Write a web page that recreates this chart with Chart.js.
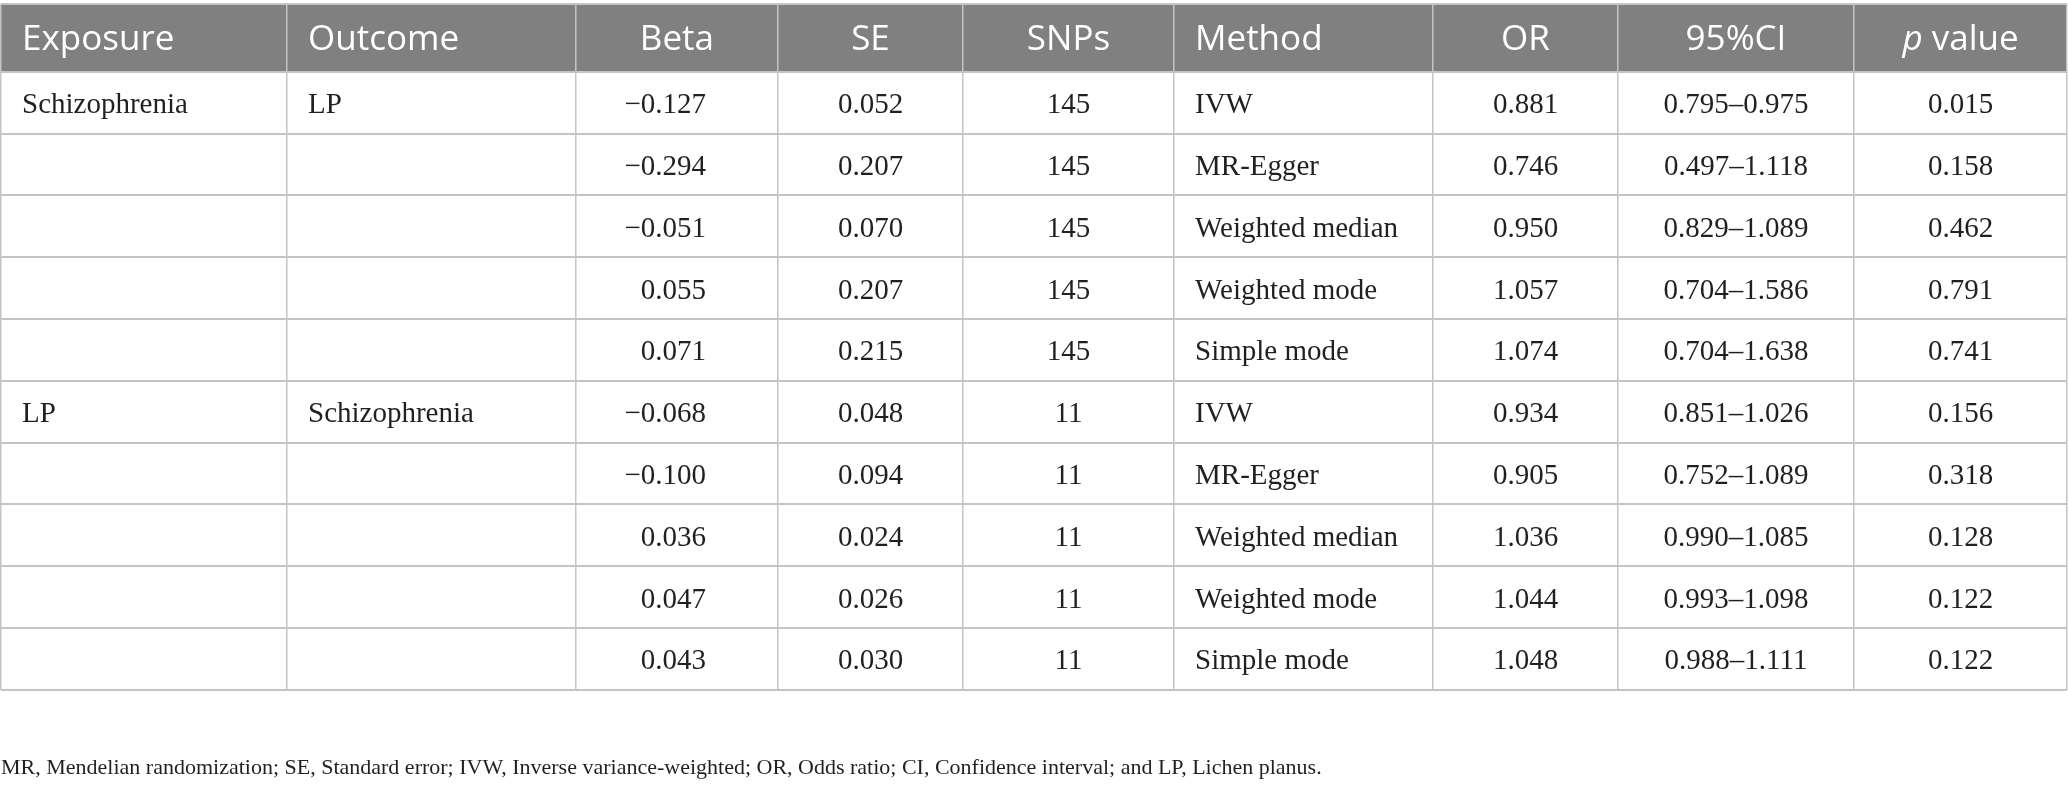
<!DOCTYPE html>
<html>
<head>
<meta charset="utf-8">
<script src="https://cdn.jsdelivr.net/npm/chart.js@4.4.1/dist/chart.umd.min.js"></script>
<style>
  html, body { margin: 0; padding: 0; background: #fff; }
  #wrap { width: 2068px; height: 792px; }
</style>
</head>
<body>
<div id="wrap"><canvas id="mrTable" width="2068" height="792"></canvas></div>
<script>
// table content
const headers = ["Exposure", "Outcome", "Beta", "SE", "SNPs", "Method", "OR", "95%CI", "_p_ value"]
const exposure = ["Schizophrenia", "", "", "", "", "LP", "", "", "", ""]
const outcome = ["LP", "", "", "", "", "Schizophrenia", "", "", "", ""]
const beta = [-0.127, -0.294, -0.051, 0.055, 0.071, -0.068, -0.100, 0.036, 0.047, 0.043]
const se = [0.052, 0.207, 0.070, 0.207, 0.215, 0.048, 0.094, 0.024, 0.026, 0.030]
const snps = [145, 145, 145, 145, 145, 11, 11, 11, 11, 11]
const method = ["IVW", "MR-Egger", "Weighted median", "Weighted mode", "Simple mode",
                "IVW", "MR-Egger", "Weighted median", "Weighted mode", "Simple mode"]
const oddsRatio = [0.881, 0.746, 0.950, 1.057, 1.074, 0.934, 0.905, 1.036, 1.044, 1.048]
const ciLow = [0.795, 0.497, 0.829, 0.704, 0.704, 0.851, 0.752, 0.990, 0.993, 0.988]
const ciHigh = [0.975, 1.118, 1.089, 1.586, 1.638, 1.026, 1.089, 1.085, 1.098, 1.111]
const pValue = [0.015, 0.158, 0.462, 0.791, 0.741, 0.156, 0.318, 0.128, 0.122, 0.122]
const footnote = "MR, Mendelian randomization; SE, Standard error; IVW, Inverse variance-weighted; OR, Odds ratio; CI, Confidence interval; and LP, Lichen planus."

// layout (table units = px along the x scale)
const colEdges = [0, 286, 575, 777, 962, 1173, 1432, 1617, 1853, 2066]
const colAlign = ["left", "left", "right", "center", "center", "left", "center", "center", "center"]
const headerRows = 1.1
const cellPad = 21
const lineColor = "#c4c4c4"
const headFill = "#808080"
const inkColor = "#231f20"

const fmt = v => v.toFixed(3).replace("-", "\u2212")

const columns = [
    exposure,
    outcome,
    beta.map(fmt),
    se.map(v => v.toFixed(3)),
    snps.map(String),
    method,
    oddsRatio.map(v => v.toFixed(3)),
    ciLow.map((lo, i) => lo.toFixed(3) + "\u2013" + ciHigh[i].toFixed(3)),
    pValue.map(v => v.toFixed(3)),
]

function anchorX(c, rightPad) {
    if (colAlign[c] === "left") return colEdges[c] + cellPad
    if (colAlign[c] === "right") return colEdges[c + 1] - rightPad
    return (colEdges[c] + colEdges[c + 1]) / 2
}

const rowEdges = [-headerRows]
for (let i = 0; i <= method.length; i++) rowEdges.push(i)

const datasets = columns.map((texts, c) => ({
    label: headers[c],
    texts: texts,
    align: colAlign[c],
    font: "29px 'Liberation Serif'",
    shiftY: 3,
    color: inkColor,
    data: texts.map((t, i) => ({ x: anchorX(c, 72), y: i + 0.5 })),
    pointRadius: 0,
}))
datasets.push({
    label: "header",
    texts: headers,
    align: colAlign,
    font: "35px 'Open Sans'",
    italicFont: "italic 35px 'Open Sans'",
    shiftY: 2,
    color: "#ffffff",
    data: headers.map((h, c) => ({ x: anchorX(c, 64), y: -headerRows / 2 })),
    pointRadius: 0,
})

const headerBand = {
    id: "headerBand",
    beforeDraw(chart) {
        const { ctx, scales: { x, y } } = chart
        const top = y.getPixelForValue(-headerRows)
        const bottom = y.getPixelForValue(0)
        const left = x.getPixelForValue(colEdges[0])
        const right = x.getPixelForValue(colEdges[colEdges.length - 1])
        ctx.save()
        ctx.fillStyle = headFill
        ctx.fillRect(left, top, right - left, bottom - top)
        ctx.restore()
    },
}

const cellText = {
    id: "cellText",
    afterDatasetsDraw(chart) {
        const ctx = chart.ctx
        ctx.save()
        ctx.textBaseline = "middle"
        chart.data.datasets.forEach((ds, di) => {
            const meta = chart.getDatasetMeta(di)
            meta.data.forEach((pt, i) => {
                const text = ds.texts[i]
                if (!text) return
                const align = Array.isArray(ds.align) ? ds.align[i] : ds.align
                // split "_p_ value" into italic / upright runs
                const runs = text.split("_").map((s, k) => ({ s, italic: k % 2 === 1 })).filter(r => r.s)
                let total = 0
                runs.forEach(r => {
                    ctx.font = r.italic ? ds.italicFont : ds.font
                    r.w = ctx.measureText(r.s).width
                    total += r.w
                })
                let xPos = pt.x
                if (align === "center") xPos -= total / 2
                if (align === "right") xPos -= total
                ctx.fillStyle = ds.color
                ctx.textAlign = "left"
                runs.forEach(r => {
                    ctx.font = r.italic ? ds.italicFont : ds.font
                    ctx.fillText(r.s, xPos, pt.y + ds.shiftY)
                    xPos += r.w
                })
            })
        })
        ctx.restore()
    },
}

const ctx = document.getElementById("mrTable").getContext("2d")
new Chart(ctx, {
    type: "scatter",
    data: { datasets: datasets },
    plugins: [headerBand, cellText],
    options: {
        responsive: false,
        animation: false,
        devicePixelRatio: 1,
        layout: { padding: { top: 4, left: 1, right: 1, bottom: 0 } },
        scales: {
            x: {
                type: "linear",
                min: colEdges[0],
                max: colEdges[colEdges.length - 1],
                afterBuildTicks: scale => { scale.ticks = colEdges.map(v => ({ value: v })) },
                ticks: { display: false },
                grid: { color: lineColor, lineWidth: 1.5, drawTicks: false },
                border: { display: false },
            },
            y: {
                type: "linear",
                reverse: true,
                min: -headerRows,
                max: method.length,
                afterBuildTicks: scale => { scale.ticks = rowEdges.map(v => ({ value: v })) },
                ticks: { display: false },
                grid: { color: lineColor, lineWidth: 2, drawTicks: false },
                border: { display: false },
            },
        },
        plugins: {
            legend: { display: false },
            tooltip: { enabled: false },
            title: {
                display: true,
                position: "bottom",
                align: "start",
                text: footnote,
                color: inkColor,
                font: { family: "'Liberation Serif'", size: 22, weight: "normal" },
                padding: { top: 65, bottom: 11 },
            },
        },
    },
})
</script>
</body>
</html>
